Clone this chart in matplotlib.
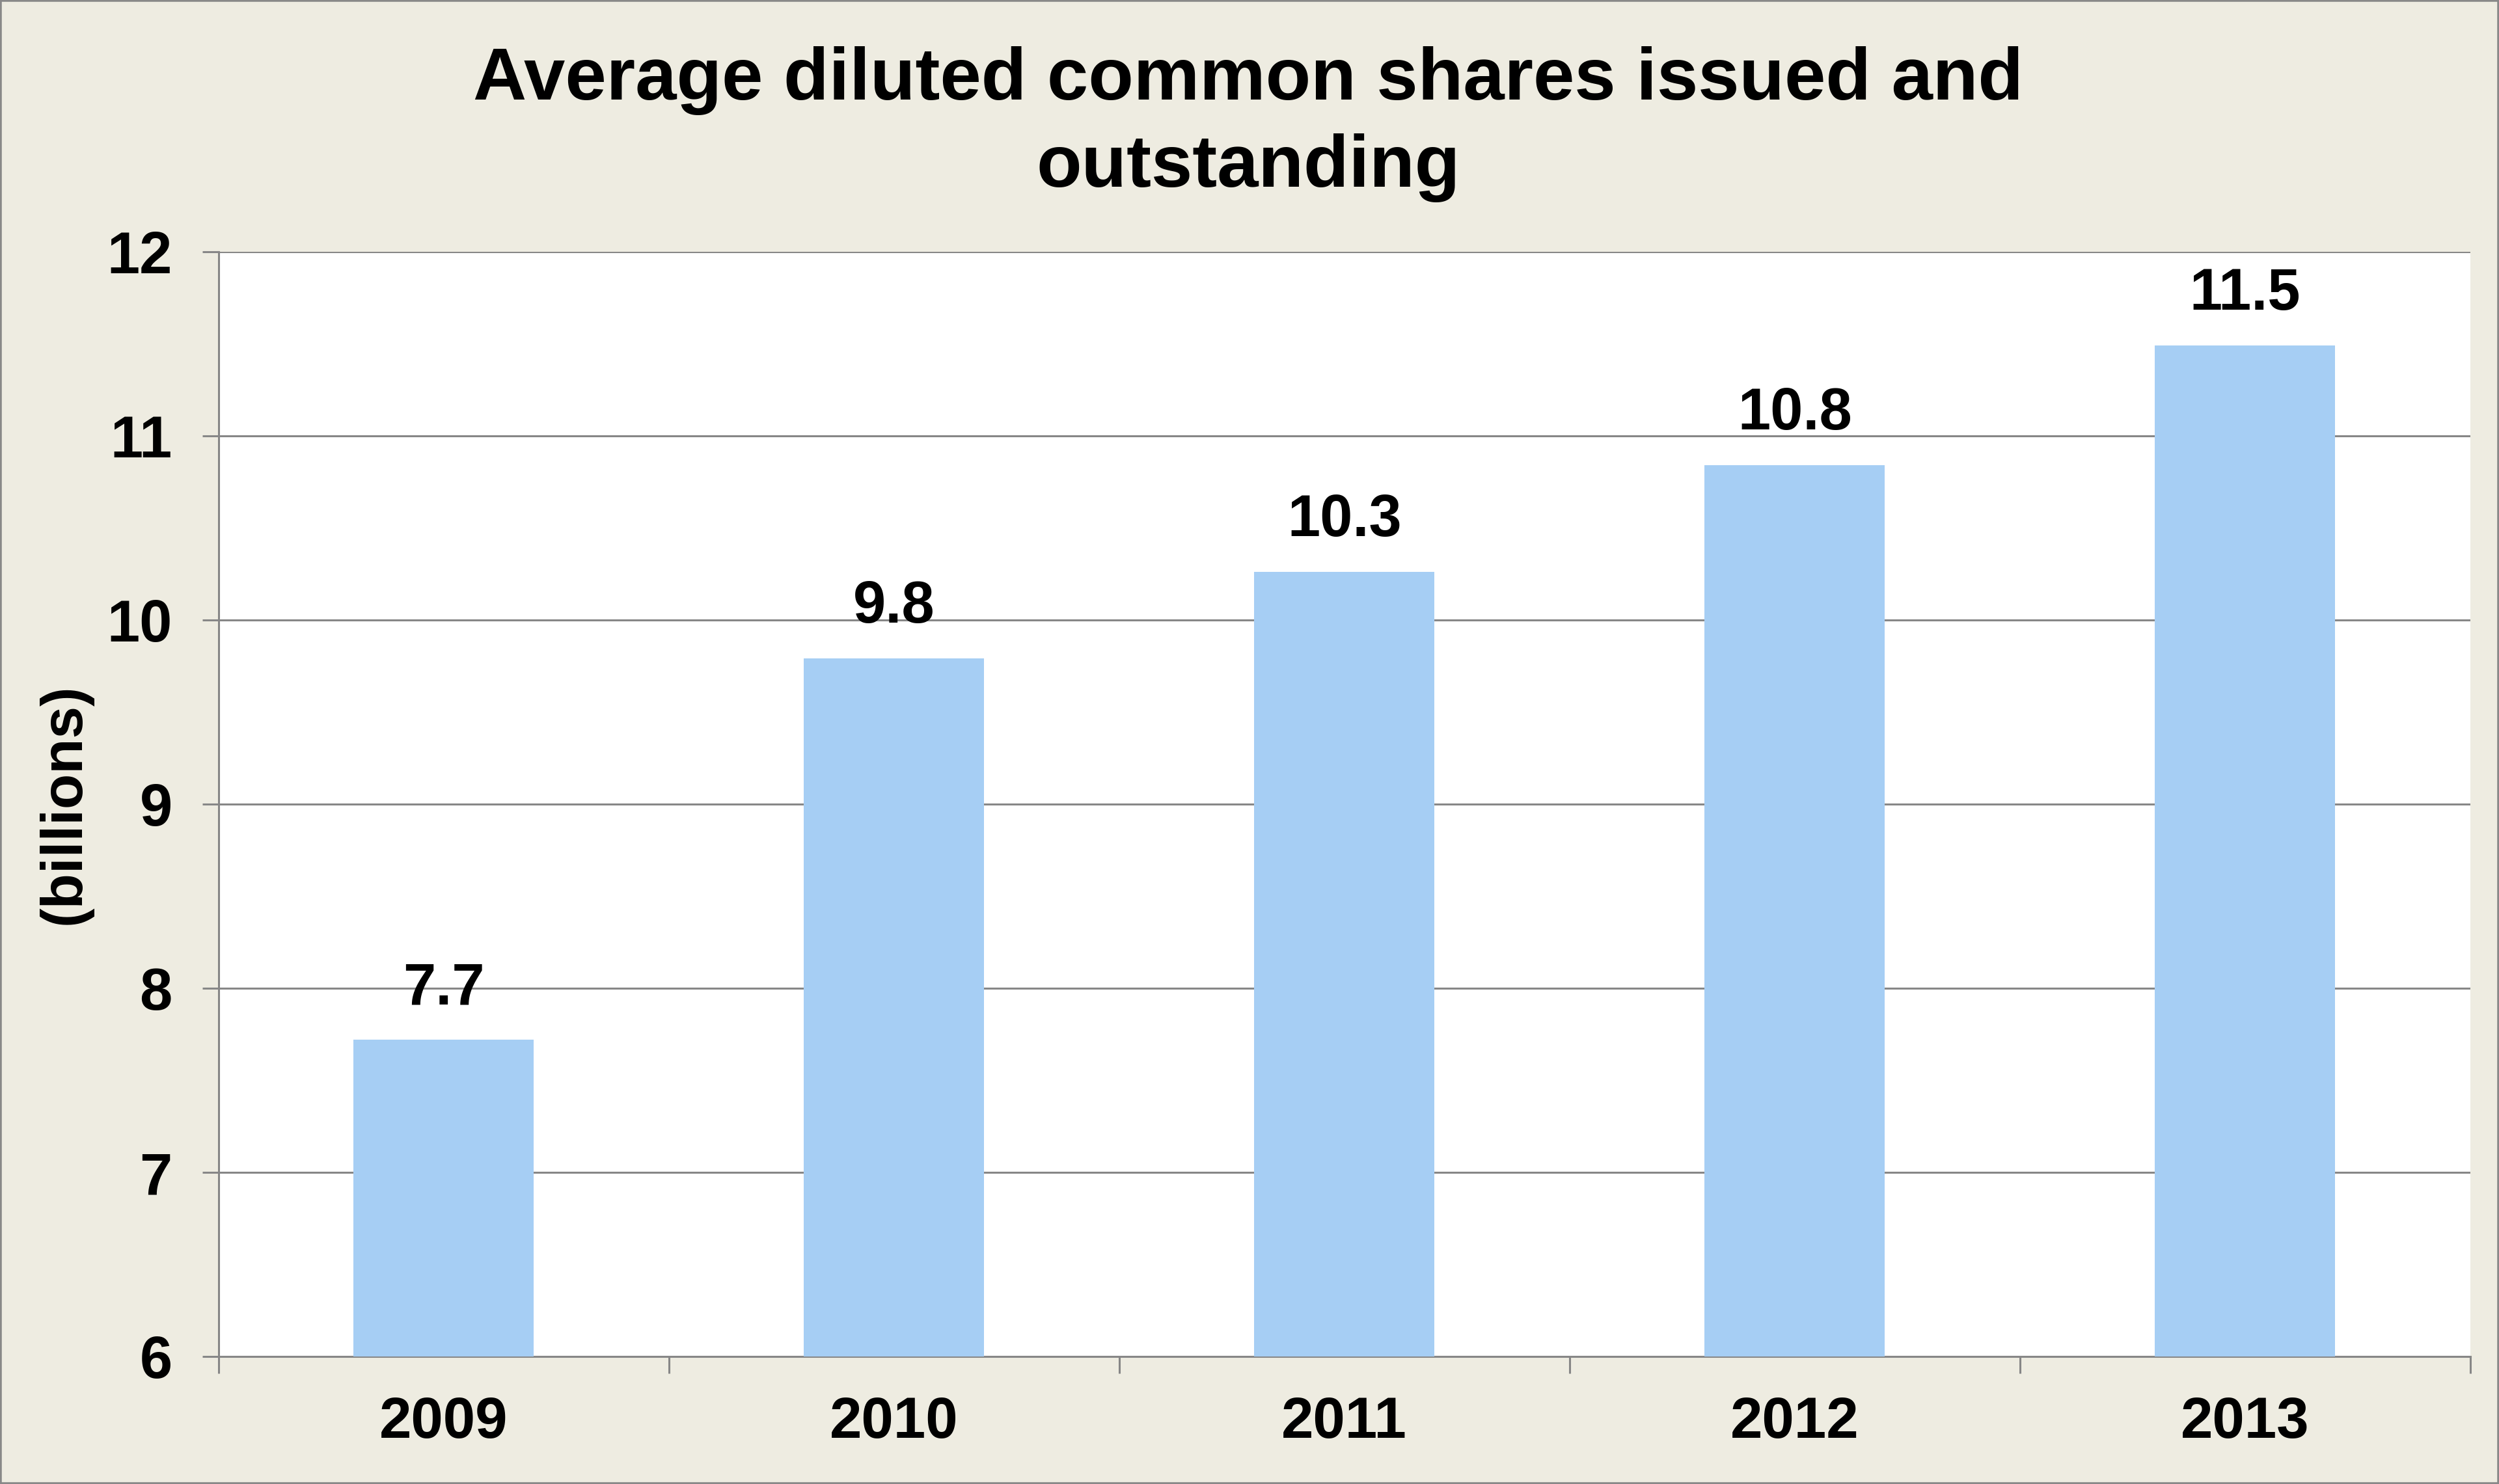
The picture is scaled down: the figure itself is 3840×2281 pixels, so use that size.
import matplotlib
matplotlib.use("Agg")
import matplotlib.pyplot as plt
from matplotlib.patches import Rectangle
import numpy as np

years = ["2009", "2010", "2011", "2012", "2013"]
values = [7.72, 9.79, 10.26, 10.84, 11.49]
labels = ["7.7", "9.8", "10.3", "10.8", "11.5"]
yticks = [6, 7, 8, 9, 10, 11, 12]

plt.rcParams['font.family'] = ['Liberation Sans', 'DejaVu Sans']
plt.rcParams['font.weight'] = 'bold'

BG = "#EEECE1"
GRID = "#878787"
BAR = "#A6CEF4"

fig = plt.figure(figsize=(38.4, 22.81), dpi=100, facecolor=BG)
ax = fig.add_axes([137/1568, 1 - 851/931, (1550 - 137)/1568, (851 - 158)/931])
ax.set_facecolor("white")

x = np.arange(len(years))
ax.bar(x, values, width=0.40, color=BAR, zorder=3)
for xi, v, lab in zip(x, values, labels):
    ax.annotate(lab, (xi, v), xytext=(0, 26), textcoords="offset points",
                ha="center", va="bottom", fontsize=65, fontweight="bold", color="black")

ax.set_ylim(6, 12)
ax.set_xlim(-0.5, len(years) - 0.5)
ax.set_yticks(yticks)
ax.set_yticklabels([str(t) for t in yticks], fontsize=65, fontweight="bold")
ax.yaxis.grid(True, color=GRID, linewidth=2.2, zorder=0)
ax.set_axisbelow(True)

ax.set_xticks(x)
ax.set_xticklabels(years, fontsize=64, fontweight="bold")
ax.tick_params(axis="x", which="major", length=0, pad=43)
ax.set_xticks(np.arange(-0.5, len(years)), minor=True)
ax.tick_params(axis="x", which="minor", length=19, width=2.2, color=GRID, direction="out")
ax.tick_params(axis="y", length=18, width=2.2, color=GRID, pad=33, direction="out")

for s in ["top", "right"]:
    ax.spines[s].set_visible(False)
for s in ["left", "bottom"]:
    ax.spines[s].set_color(GRID)
    ax.spines[s].set_linewidth(2.2)

ax.set_ylabel("(billions)", fontsize=64, fontweight="bold")
ax.yaxis.set_label_coords(-(137 - 58) / (1550 - 137), 0.5)

fig.text(0.4995, 1 - 78/931, "Average diluted common shares issued and\noutstanding",
         ha="center", va="center", fontsize=82, fontweight="bold", linespacing=1.35)

fig.patches.append(Rectangle((0, 0), 1, 1, transform=fig.transFigure, fill=False,
                             edgecolor="#888888", linewidth=4, zorder=10))

fig.savefig("out.png", dpi=100, facecolor=BG)
